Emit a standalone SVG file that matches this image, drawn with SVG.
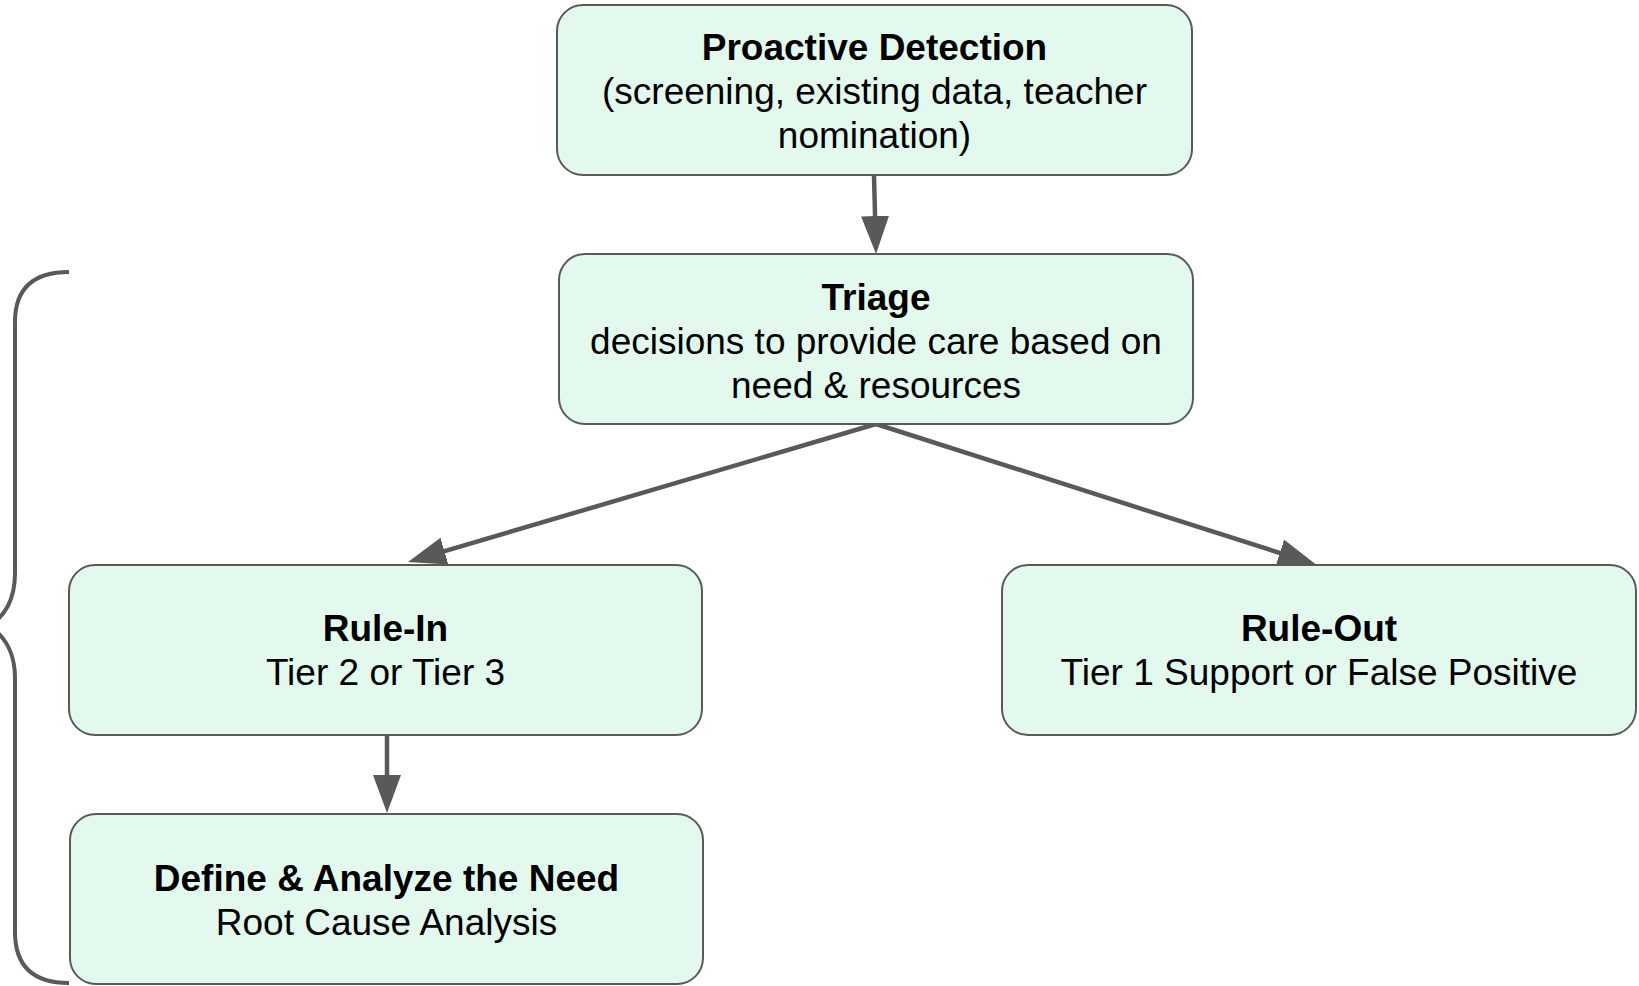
<svg xmlns="http://www.w3.org/2000/svg" width="1639" height="986" viewBox="0 0 1639 986">
<style>
.box{fill:#e3f9ee;stroke:#595959;stroke-width:2}
.t{font-family:"Liberation Sans",Arial,sans-serif;font-size:37px;fill:#000;text-anchor:middle}
.b{font-weight:bold}
.conn{stroke:#595959;stroke-width:4.5;fill:none}
</style>
<defs>
<marker id="ah" markerUnits="userSpaceOnUse" markerWidth="40" markerHeight="30" refX="28" refY="14" orient="auto">
<path d="M0,0 L38,14 L0,28 Z" fill="#595959"/>
</marker>
</defs>
<rect width="1639" height="986" fill="#fff"/>
<g id="connectors">
<line class="conn" x1="874" y1="176" x2="875.8" y2="244" marker-end="url(#ah)"/>
<line class="conn" x1="876" y1="424" x2="417.6" y2="559.1" marker-end="url(#ah)"/>
<line class="conn" x1="876" y1="424" x2="1306.5" y2="561.5" marker-end="url(#ah)"/>
<line class="conn" x1="387" y1="735" x2="387" y2="803" marker-end="url(#ah)"/>
</g>
<g id="brace">
<path d="M69,272 C35,272 15,287 15,322 L15,573 C15,600 5,615 -10,626 C5,637 15,652 15,678 L15,932 C15,968 35,983 69,983" fill="none" stroke="#595959" stroke-width="4"/>
</g>
<g id="proactive">
<rect class="box" x="557" y="5" width="635" height="170" rx="26"/>
<text class="t b" x="874.5" y="60">Proactive Detection</text>
<text class="t" x="874.5" y="104">(screening, existing data, teacher</text>
<text class="t" x="874.5" y="148">nomination)</text>
</g>
<g id="triage">
<rect class="box" x="559" y="254" width="634" height="170" rx="26"/>
<text class="t b" x="876" y="310">Triage</text>
<text class="t" x="876" y="354">decisions to provide care based on</text>
<text class="t" x="876" y="398">need &amp; resources</text>
</g>
<g id="rulein">
<rect class="box" x="69" y="565" width="633" height="170" rx="26"/>
<text class="t b" x="385.5" y="641">Rule-In</text>
<text class="t" x="385.5" y="685">Tier 2 or Tier 3</text>
</g>
<g id="ruleout">
<rect class="box" x="1002" y="565" width="634" height="170" rx="26"/>
<text class="t b" x="1319" y="641">Rule-Out</text>
<text class="t" x="1319" y="685">Tier 1 Support or False Positive</text>
</g>
<g id="define">
<rect class="box" x="70" y="814" width="633" height="170" rx="26"/>
<text class="t b" x="386.5" y="891">Define &amp; Analyze the Need</text>
<text class="t" x="386.5" y="935">Root Cause Analysis</text>
</g>
</svg>
